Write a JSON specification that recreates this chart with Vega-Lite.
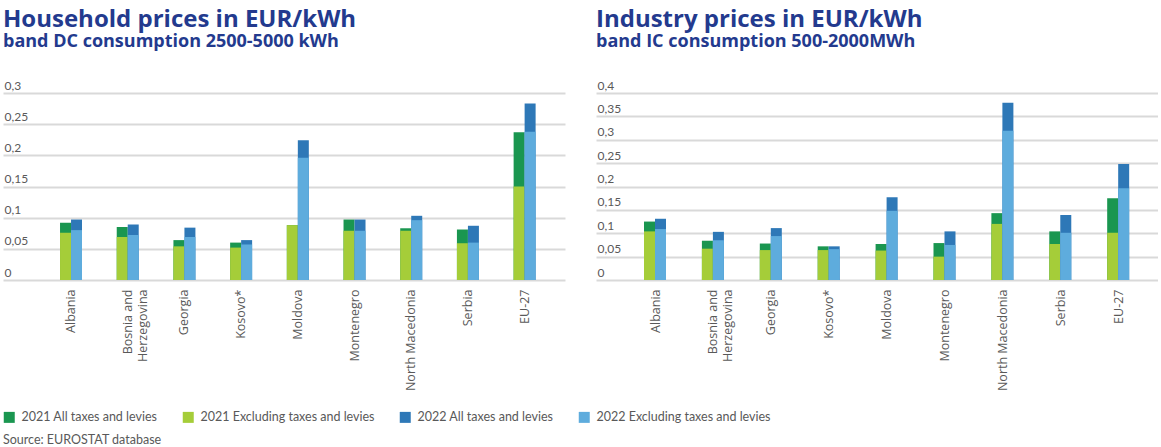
{
  "$schema": "https://vega.github.io/schema/vega-lite/v6.json",
  "background": "white",
  "padding": {"left": 3, "top": 8, "right": 0, "bottom": 0},
  "autosize": {"type": "pad"},
  "datasets": {
    "household": [
      {"country": "Albania", "year": "2021", "series": "2021 All taxes and levies", "value": 0.092},
      {"country": "Albania", "year": "2021", "series": "2021 Excluding taxes and levies", "value": 0.076},
      {"country": "Albania", "year": "2022", "series": "2022 All taxes and levies", "value": 0.097},
      {"country": "Albania", "year": "2022", "series": "2022 Excluding taxes and levies", "value": 0.080},
      {"country": "Bosnia and Herzegovina", "year": "2021", "series": "2021 All taxes and levies", "value": 0.085},
      {"country": "Bosnia and Herzegovina", "year": "2021", "series": "2021 Excluding taxes and levies", "value": 0.069},
      {"country": "Bosnia and Herzegovina", "year": "2022", "series": "2022 All taxes and levies", "value": 0.089},
      {"country": "Bosnia and Herzegovina", "year": "2022", "series": "2022 Excluding taxes and levies", "value": 0.072},
      {"country": "Georgia", "year": "2021", "series": "2021 All taxes and levies", "value": 0.064},
      {"country": "Georgia", "year": "2021", "series": "2021 Excluding taxes and levies", "value": 0.054},
      {"country": "Georgia", "year": "2022", "series": "2022 All taxes and levies", "value": 0.084},
      {"country": "Georgia", "year": "2022", "series": "2022 Excluding taxes and levies", "value": 0.069},
      {"country": "Kosovo*", "year": "2021", "series": "2021 All taxes and levies", "value": 0.060},
      {"country": "Kosovo*", "year": "2021", "series": "2021 Excluding taxes and levies", "value": 0.052},
      {"country": "Kosovo*", "year": "2022", "series": "2022 All taxes and levies", "value": 0.064},
      {"country": "Kosovo*", "year": "2022", "series": "2022 Excluding taxes and levies", "value": 0.057},
      {"country": "Moldova", "year": "2021", "series": "2021 All taxes and levies", "value": 0.088},
      {"country": "Moldova", "year": "2021", "series": "2021 Excluding taxes and levies", "value": 0.088},
      {"country": "Moldova", "year": "2022", "series": "2022 All taxes and levies", "value": 0.224},
      {"country": "Moldova", "year": "2022", "series": "2022 Excluding taxes and levies", "value": 0.196},
      {"country": "Montenegro", "year": "2021", "series": "2021 All taxes and levies", "value": 0.097},
      {"country": "Montenegro", "year": "2021", "series": "2021 Excluding taxes and levies", "value": 0.079},
      {"country": "Montenegro", "year": "2022", "series": "2022 All taxes and levies", "value": 0.097},
      {"country": "Montenegro", "year": "2022", "series": "2022 Excluding taxes and levies", "value": 0.079},
      {"country": "North Macedonia", "year": "2021", "series": "2021 All taxes and levies", "value": 0.083},
      {"country": "North Macedonia", "year": "2021", "series": "2021 Excluding taxes and levies", "value": 0.079},
      {"country": "North Macedonia", "year": "2022", "series": "2022 All taxes and levies", "value": 0.103},
      {"country": "North Macedonia", "year": "2022", "series": "2022 Excluding taxes and levies", "value": 0.096},
      {"country": "Serbia", "year": "2021", "series": "2021 All taxes and levies", "value": 0.081},
      {"country": "Serbia", "year": "2021", "series": "2021 Excluding taxes and levies", "value": 0.059},
      {"country": "Serbia", "year": "2022", "series": "2022 All taxes and levies", "value": 0.087},
      {"country": "Serbia", "year": "2022", "series": "2022 Excluding taxes and levies", "value": 0.060},
      {"country": "EU-27", "year": "2021", "series": "2021 All taxes and levies", "value": 0.237},
      {"country": "EU-27", "year": "2021", "series": "2021 Excluding taxes and levies", "value": 0.150},
      {"country": "EU-27", "year": "2022", "series": "2022 All taxes and levies", "value": 0.283},
      {"country": "EU-27", "year": "2022", "series": "2022 Excluding taxes and levies", "value": 0.238}
    ],
    "industry": [
      {"country": "Albania", "year": "2021", "series": "2021 All taxes and levies", "value": 0.125},
      {"country": "Albania", "year": "2021", "series": "2021 Excluding taxes and levies", "value": 0.104},
      {"country": "Albania", "year": "2022", "series": "2022 All taxes and levies", "value": 0.131},
      {"country": "Albania", "year": "2022", "series": "2022 Excluding taxes and levies", "value": 0.109},
      {"country": "Bosnia and Herzegovina", "year": "2021", "series": "2021 All taxes and levies", "value": 0.084},
      {"country": "Bosnia and Herzegovina", "year": "2021", "series": "2021 Excluding taxes and levies", "value": 0.067},
      {"country": "Bosnia and Herzegovina", "year": "2022", "series": "2022 All taxes and levies", "value": 0.103},
      {"country": "Bosnia and Herzegovina", "year": "2022", "series": "2022 Excluding taxes and levies", "value": 0.085},
      {"country": "Georgia", "year": "2021", "series": "2021 All taxes and levies", "value": 0.078},
      {"country": "Georgia", "year": "2021", "series": "2021 Excluding taxes and levies", "value": 0.064},
      {"country": "Georgia", "year": "2022", "series": "2022 All taxes and levies", "value": 0.111},
      {"country": "Georgia", "year": "2022", "series": "2022 Excluding taxes and levies", "value": 0.094},
      {"country": "Kosovo*", "year": "2021", "series": "2021 All taxes and levies", "value": 0.072},
      {"country": "Kosovo*", "year": "2021", "series": "2021 Excluding taxes and levies", "value": 0.064},
      {"country": "Kosovo*", "year": "2022", "series": "2022 All taxes and levies", "value": 0.072},
      {"country": "Kosovo*", "year": "2022", "series": "2022 Excluding taxes and levies", "value": 0.066},
      {"country": "Moldova", "year": "2021", "series": "2021 All taxes and levies", "value": 0.077},
      {"country": "Moldova", "year": "2021", "series": "2021 Excluding taxes and levies", "value": 0.063},
      {"country": "Moldova", "year": "2022", "series": "2022 All taxes and levies", "value": 0.177},
      {"country": "Moldova", "year": "2022", "series": "2022 Excluding taxes and levies", "value": 0.148},
      {"country": "Montenegro", "year": "2021", "series": "2021 All taxes and levies", "value": 0.079},
      {"country": "Montenegro", "year": "2021", "series": "2021 Excluding taxes and levies", "value": 0.050},
      {"country": "Montenegro", "year": "2022", "series": "2022 All taxes and levies", "value": 0.104},
      {"country": "Montenegro", "year": "2022", "series": "2022 Excluding taxes and levies", "value": 0.075},
      {"country": "North Macedonia", "year": "2021", "series": "2021 All taxes and levies", "value": 0.143},
      {"country": "North Macedonia", "year": "2021", "series": "2021 Excluding taxes and levies", "value": 0.120},
      {"country": "North Macedonia", "year": "2022", "series": "2022 All taxes and levies", "value": 0.379},
      {"country": "North Macedonia", "year": "2022", "series": "2022 Excluding taxes and levies", "value": 0.319},
      {"country": "Serbia", "year": "2021", "series": "2021 All taxes and levies", "value": 0.104},
      {"country": "Serbia", "year": "2021", "series": "2021 Excluding taxes and levies", "value": 0.077},
      {"country": "Serbia", "year": "2022", "series": "2022 All taxes and levies", "value": 0.139},
      {"country": "Serbia", "year": "2022", "series": "2022 Excluding taxes and levies", "value": 0.101},
      {"country": "EU-27", "year": "2021", "series": "2021 All taxes and levies", "value": 0.175},
      {"country": "EU-27", "year": "2021", "series": "2021 Excluding taxes and levies", "value": 0.101},
      {"country": "EU-27", "year": "2022", "series": "2022 All taxes and levies", "value": 0.248},
      {"country": "EU-27", "year": "2022", "series": "2022 Excluding taxes and levies", "value": 0.196}
    ]
  },
  "title": {
    "text": "Source: EUROSTAT database",
    "orient": "bottom",
    "anchor": "start",
    "frame": "bounds",
    "font": "Lato",
    "fontSize": 12.5,
    "fontWeight": "normal",
    "color": "#595959",
    "offset": 10
  },
  "config": {
    "view": {"stroke": null},
    "title": {
      "anchor": "start",
      "frame": "group",
      "font": "Open Sans",
      "fontSize": 24,
      "fontWeight": "bold",
      "color": "#233a8e",
      "subtitleFont": "Open Sans",
      "subtitleFontSize": 18,
      "subtitleFontWeight": "bold",
      "subtitleColor": "#233a8e",
      "subtitlePadding": 1,
      "offset": 28
    },
    "axis": {
      "labelFont": "Lato",
      "labelColor": "#595959",
      "labelFontSize": 12
    },
    "legend": {
      "orient": "bottom",
      "direction": "horizontal",
      "title": null,
      "symbolType": "square",
      "symbolSize": 121,
      "symbolStrokeWidth": 0,
      "labelFont": "Lato",
      "labelFontSize": 12.5,
      "labelColor": "#595959",
      "labelOffset": 6,
      "labelLimit": 400,
      "columnPadding": 24,
      "offset": 20
    }
  },
  "spacing": 31,
  "resolve": {"scale": {"color": "shared"}, "legend": {"color": "shared"}},
  "hconcat": [
    {
      "data": {"name": "household"},
      "title": {"text": "Household prices in EUR/kWh", "subtitle": "band DC consumption 2500-5000 kWh"},
      "width": 562,
      "height": 187,
      "mark": {"type": "bar"},
      "encoding": {
        "x": {
          "field": "country", "type": "nominal", "sort": null, "title": null,
          "scale": {"paddingInner": 0.612, "paddingOuter": 0.762, "align": 0.66},
          "axis": {"labelAngle": 270, "labelAlign": "right", "labelBaseline": "middle", "labelPadding": 9, "ticks": false, "domain": false, "grid": false, "labelLineHeight": 15, "labelFont": "Open Sans", "labelFontSize": 12.5,
                   "labelExpr": "datum.label == 'Bosnia and Herzegovina' ? ['Bosnia and', 'Herzegovina'] : datum.label"}
        },
        "xOffset": {"field": "year", "type": "nominal", "scale": {"paddingInner": 0, "paddingOuter": 0}},
        "y": {
          "field": "value", "type": "quantitative", "stack": null, "title": null,
          "scale": {"domain": [0, 0.3], "nice": false},
          "axis": {"values": [0, 0.05, 0.1, 0.15, 0.2, 0.25, 0.3], "labelAlign": "left", "labelBaseline": "alphabetic", "labelOffset": -4, "labelPadding": -1, "ticks": false, "domain": false, "grid": true, "gridColor": "#d9d9d9", "gridWidth": 2, "labelOverlap": false, "labelFlush": false,
                   "labelExpr": "replace(format(datum.value, '~g'), '.', ',')"}
        },
        "color": {
          "field": "series", "type": "nominal",
          "scale": {"domain": ["2021 All taxes and levies", "2021 Excluding taxes and levies", "2022 All taxes and levies", "2022 Excluding taxes and levies"],
                    "range": ["#1a9650", "#a5cd39", "#2e78b7", "#5eacdd"]},
          "legend": {"labelExpr": "datum.label == '2021 Excluding taxes and levies' ? datum.label + '\u2007\u2007' : datum.label"}
        }
      }
    },
    {
      "data": {"name": "industry"},
      "title": {"text": "Industry prices in EUR/kWh", "subtitle": "band IC consumption 500-2000MWh"},
      "width": 562,
      "height": 187,
      "mark": {"type": "bar"},
      "encoding": {
        "x": {
          "field": "country", "type": "nominal", "sort": null, "title": null,
          "scale": {"paddingInner": 0.603, "paddingOuter": 0.655, "align": 0.633},
          "axis": {"labelAngle": 270, "labelAlign": "right", "labelBaseline": "middle", "labelPadding": 9, "ticks": false, "domain": false, "grid": false, "labelLineHeight": 15, "labelFont": "Open Sans", "labelFontSize": 12.5,
                   "labelExpr": "datum.label == 'Bosnia and Herzegovina' ? ['Bosnia and', 'Herzegovina'] : datum.label"}
        },
        "xOffset": {"field": "year", "type": "nominal", "scale": {"paddingInner": 0, "paddingOuter": 0}},
        "y": {
          "field": "value", "type": "quantitative", "stack": null, "title": null,
          "scale": {"domain": [0, 0.4], "nice": false},
          "axis": {"values": [0, 0.05, 0.1, 0.15, 0.2, 0.25, 0.3, 0.35, 0.4], "labelAlign": "left", "labelBaseline": "alphabetic", "labelOffset": -4, "labelPadding": -1, "ticks": false, "domain": false, "grid": true, "gridColor": "#d9d9d9", "gridWidth": 2, "labelOverlap": false, "labelFlush": false,
                   "labelExpr": "replace(format(datum.value, '~g'), '.', ',')"}
        },
        "color": {
          "field": "series", "type": "nominal",
          "scale": {"domain": ["2021 All taxes and levies", "2021 Excluding taxes and levies", "2022 All taxes and levies", "2022 Excluding taxes and levies"],
                    "range": ["#1a9650", "#a5cd39", "#2e78b7", "#5eacdd"]},
          "legend": {"labelExpr": "datum.label == '2021 Excluding taxes and levies' ? datum.label + '\u2007\u2007' : datum.label"}
        }
      }
    }
  ]
}
